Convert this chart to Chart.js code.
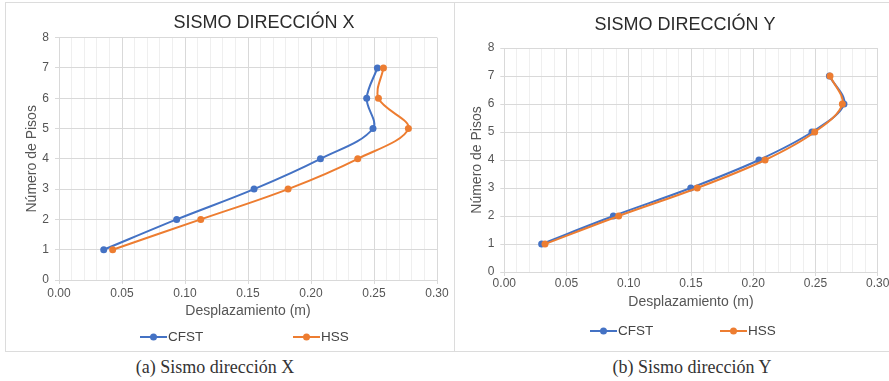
<!DOCTYPE html>
<html>
<head>
<meta charset="utf-8">
<script src="https://cdn.jsdelivr.net/npm/chart.js@4"></script>
<style>
  html, body { margin: 0; padding: 0; background: #fff; overflow: hidden; }
  body { width: 889px; height: 381px; position: relative; }
  .box { position: absolute; top: 2px; height: 350px; border: 1px solid #dcdcdc; box-sizing: border-box; }
  canvas { position: absolute; }
  .cap { position: absolute; top: 357px; font: 18px "Liberation Serif", "DejaVu Serif", serif; color: #333; text-align: center; line-height: 20px; }
</style>
</head>
<body>
<div class="box" style="left:5px; width:450px;"></div>
<div class="box" style="left:454px; width:445px;"></div>
<canvas id="graphX" width="448" height="349" style="left:6px; top:4px;"></canvas>
<canvas id="graphY" width="445" height="349" style="left:455px; top:4px;"></canvas>
<div class="cap" style="left:105px; width:220px;">(a) Sismo dirección X</div>
<div class="cap" style="left:582px; width:220px;">(b) Sismo dirección Y</div>
<script>
// pisos (eje Y) y desplazamientos (m)
const floors = [1, 2, 3, 4, 5, 6, 7];
const cfstDirX = [0.0355, 0.0934, 0.1548, 0.2075, 0.2492, 0.2442, 0.2527];
const hssDirX  = [0.0426, 0.1125, 0.1818, 0.2371, 0.2773, 0.2535, 0.2575];
const cfstDirY = [0.0300, 0.0876, 0.1498, 0.2046, 0.2472, 0.2729, 0.2612];
const hssDirY  = [0.0327, 0.0919, 0.1550, 0.2095, 0.2494, 0.2716, 0.2617];
const seriesNames = ['CFST', 'HSS'];
const seriesColors = ['#4472C4', '#ED7D31'];

Chart.defaults.font.family = '"Liberation Sans", Arial, sans-serif';
Chart.defaults.color = '#555555';

// titulo y leyenda a la manera de Excel
const excelText = {
    id: 'excelText',
    afterDraw(chart, args, opts) {
        const ctx = chart.ctx;
        ctx.save();
        ctx.textBaseline = 'middle';
        ctx.textAlign = 'center';
        ctx.font = '18px "Liberation Sans", Arial, sans-serif';
        ctx.fillStyle = '#2b2b2b';
        ctx.fillText(opts.title, opts.titleX, opts.titleY);
        ctx.font = '13.5px "Liberation Sans", Arial, sans-serif';
        chart.data.datasets.forEach((ds, i) => {
            const x = opts.legendX[i];
            const y = opts.legendY;
            ctx.strokeStyle = ds.borderColor;
            ctx.lineWidth = 2;
            ctx.beginPath();
            ctx.moveTo(x, y);
            ctx.lineTo(x + 27, y);
            ctx.stroke();
            ctx.fillStyle = ds.borderColor;
            ctx.beginPath();
            ctx.arc(x + 13.5, y, 3.5, 0, Math.PI * 2);
            ctx.fill();
            ctx.fillStyle = '#444444';
            ctx.textAlign = 'left';
            ctx.fillText(ds.label, x + 28, y + 0.5);
        });
        ctx.restore();
    }
};

function points(xs) {
    return xs.map((x, i) => ({x: x, y: floors[i]}));
}

function makeConfig(cfst, hss, s) {
    return {
        type: 'scatter',
        data: {
            datasets: [
                {label: seriesNames[0], data: points(cfst), borderColor: seriesColors[0], backgroundColor: seriesColors[0], order: 1},
                {label: seriesNames[1], data: points(hss), borderColor: seriesColors[1], backgroundColor: seriesColors[1], order: 0}
            ].map(d => Object.assign(d, {showLine: true, tension: 0.35, borderWidth: 2, pointRadius: 3.5, pointBorderWidth: 0}))
        },
        options: {
            responsive: false,
            animation: false,
            devicePixelRatio: 1,
            layout: {padding: s.padding},
            plugins: {
                legend: {display: false},
                tooltip: {enabled: false},
                excelText: s.text
            },
            scales: {
                x: {
                    min: 0, max: 0.3,
                    afterFit: (sc) => { sc.height = s.xHeight; },
                    ticks: {
                        stepSize: 0.01, autoSkip: false, maxRotation: 0, padding: s.xTickPad,
                        font: {size: 12},
                        callback: (v, i) => i % 5 === 0 ? v.toFixed(2) : ''
                    },
                    grid: {
                        color: (c) => c.index % 5 === 0 ? '#d9d9d9' : '#efefef',
                        tickColor: (c) => c.index % 5 === 0 ? '#d9d9d9' : 'rgba(0,0,0,0)',
                        tickLength: 4
                    },
                    border: {color: '#d9d9d9'},
                    title: {display: true, text: 'Desplazamiento (m)', font: {size: 14}, padding: {top: 0, bottom: 4}}
                },
                y: {
                    min: 0, max: 8,
                    afterFit: (sc) => { sc.width = s.yWidth; },
                    ticks: {stepSize: 1, padding: 6, font: {size: 12}},
                    grid: {color: '#d9d9d9', tickLength: 4},
                    border: {color: '#d9d9d9'},
                    title: {display: true, text: 'Número de Pisos', font: {size: 14}, padding: {top: s.yTitlePad, bottom: 0}}
                }
            }
        },
        plugins: [excelText]
    };
}

new Chart(document.querySelector('#graphX'), makeConfig(cfstDirX, hssDirX, {
    padding: {top: 33.6, left: 0, right: 17, bottom: 29},
    xHeight: 44, yWidth: 53, xTickPad: 2, yTitlePad: 17.8,
    text: {title: 'SISMO DIRECCIÓN X', titleX: 258, titleY: 19.5, legendX: [134, 287], legendY: 333}
}));

new Chart(document.querySelector('#graphY'), makeConfig(cfstDirY, hssDirY, {
    padding: {top: 44, left: 0, right: 22.3, bottom: 38.2},
    xHeight: 42.8, yWidth: 49.3, xTickPad: 0, yTitlePad: 13.8,
    text: {title: 'SISMO DIRECCIÓN Y', titleX: 230, titleY: 21, legendX: [135, 265], legendY: 327}
}));
</script>
</body>
</html>
